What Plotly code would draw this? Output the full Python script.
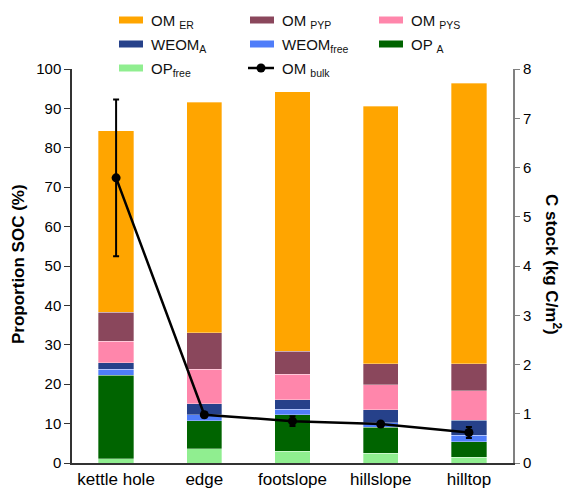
import plotly.graph_objects as go

# Landscape positions
sites = ["kettle hole", "edge", "footslope", "hillslope", "hilltop"]

# Proportion of SOC (%) in each fraction, stacked bottom to top
op_free = [1.1, 3.6, 3.0, 2.5, 1.5]
op_a = [21.2, 7.1, 9.2, 6.6, 3.9]
weom_free = [1.5, 1.5, 1.4, 1.1, 1.7]
weom_a = [1.7, 2.9, 2.5, 3.3, 3.8]
om_pys = [5.4, 8.7, 6.4, 6.3, 7.4]
om_pyp = [7.4, 9.2, 5.9, 5.4, 6.9]
om_er = [46.0, 58.5, 65.8, 65.4, 71.2]

# Bulk C stock (kg C/m2) and its error
om_bulk = [5.79, 0.98, 0.85, 0.79, 0.62]
om_bulk_err = [1.59, 0.05, 0.10, 0.05, 0.11]

left_ticks = [0, 10, 20, 30, 40, 50, 60, 70, 80, 90, 100]
right_ticks = [0, 1, 2, 3, 4, 5, 6, 7, 8]

stack = [
    ("OP<sub>free</sub>", op_free, "#90EE90"),
    ("OP <sub>A</sub>", op_a, "#006400"),
    ("WEOM<sub>free</sub>", weom_free, "#4F7DF9"),
    ("WEOM<sub>A</sub>", weom_a, "#26418A"),
    ("OM <sub>PYS</sub>", om_pys, "#FF86AB"),
    ("OM <sub>PYP</sub>", om_pyp, "#8A475C"),
    ("OM <sub>ER</sub>", om_er, "#FFA500"),
]
bulk_name = "OM <sub>bulk</sub>"

FONT = "Liberation Sans, Arial, sans-serif"
W, H = 567, 494
L, R, T, B = 72, 54, 69, 31
PW, PH = W - L - R, H - T - B


def px(x):
    return (x - L) / PW


def py(y):
    return (H - B - y) / PH


fig = go.Figure()
for name, vals, col in stack:
    fig.add_trace(go.Bar(
        x=sites, y=vals, name=name, marker_color=col,
        marker_line=dict(width=0.6, color="rgba(255,255,255,0.55)"),
        showlegend=False,
    ))

fig.add_trace(go.Scatter(
    x=sites, y=om_bulk, name=bulk_name, yaxis="y2",
    mode="lines+markers",
    line=dict(color="black", width=2.5),
    marker=dict(color="black", size=9),
    error_y=dict(type="data", array=om_bulk_err, color="black", thickness=2, width=3),
    showlegend=False,
))

# Legend drawn as swatches + labels in three columns
legend_rows = [
    [("OM <sub>ER</sub>", "#FFA500"), ("OM <sub>PYP</sub>", "#8A475C"), ("OM <sub>PYS</sub>", "#FF86AB")],
    [("WEOM<sub>A</sub>", "#26418A"), ("WEOM<sub>free</sub>", "#4F7DF9"), ("OP <sub>A</sub>", "#006400")],
    [("OP<sub>free</sub>", "#90EE90"), (bulk_name, None)],
]
col_x = [119, 250, 379]
row_y = [20, 44, 68]
shapes = []
annotations = []
for r, row in enumerate(legend_rows):
    for c, (label, col) in enumerate(row):
        x0 = col_x[c]
        yc = row_y[r]
        if col is not None:
            shapes.append(dict(type="rect", xref="paper", yref="paper",
                               x0=px(x0), x1=px(x0 + 24), y0=py(yc + 3.5), y1=py(yc - 3.5),
                               fillcolor=col, line=dict(width=0)))
        else:
            shapes.append(dict(type="line", xref="paper", yref="paper",
                               x0=px(x0 - 2), x1=px(x0 + 24), y0=py(yc), y1=py(yc),
                               line=dict(color="black", width=2.5)))
            shapes.append(dict(type="circle", xref="paper", yref="paper",
                               x0=px(x0 + 11 - 4.5), x1=px(x0 + 11 + 4.5),
                               y0=py(yc + 4.5), y1=py(yc - 4.5),
                               fillcolor="black", line=dict(width=0)))
        annotations.append(dict(text=label, xref="paper", yref="paper",
                                x=px(x0 + 30), y=py(yc + 1), xanchor="left", yanchor="middle",
                                showarrow=False, font=dict(size=15, color="#111", family=FONT)))

annotations.append(dict(text="<b>Proportion SOC (%)</b>", xref="paper", yref="paper",
                        x=px(18), y=py(264), textangle=-90, showarrow=False,
                        xanchor="center", yanchor="middle",
                        font=dict(size=17, color="black", family=FONT)))
annotations.append(dict(text="<b>C stock (kg C/m<sup>2</sup>)</b>", xref="paper", yref="paper",
                        x=px(553), y=py(264), textangle=90, showarrow=False,
                        xanchor="center", yanchor="middle",
                        font=dict(size=17, color="black", family=FONT)))

fig.update_layout(
    width=W, height=H,
    margin=dict(l=L, r=R, t=T, b=B, pad=0, autoexpand=False),
    paper_bgcolor="white", plot_bgcolor="white",
    barmode="stack", bargap=0.6,
    font=dict(family=FONT, color="black"),
    shapes=shapes, annotations=annotations,
    xaxis=dict(showline=True, linecolor="#333", linewidth=1.5, ticks="",
               tickfont=dict(size=17, family=FONT), showgrid=False, zeroline=False,
               automargin=False),
    yaxis=dict(range=[0, 100], tickvals=left_ticks, showline=True, linecolor="#333",
               linewidth=1.5, ticks="outside", ticklen=6, tickcolor="#333",
               tickfont=dict(size=15, family=FONT), showgrid=False, zeroline=False,
               automargin=False),
    yaxis2=dict(range=[0, 8], tickvals=right_ticks, overlaying="y", side="right",
                showline=True, linecolor="#808080", linewidth=2, ticks="outside",
                ticklen=5, tickcolor="#808080", tickfont=dict(size=15, family=FONT),
                showgrid=False, zeroline=False, automargin=False),
)

fig.write_html("out.html")
